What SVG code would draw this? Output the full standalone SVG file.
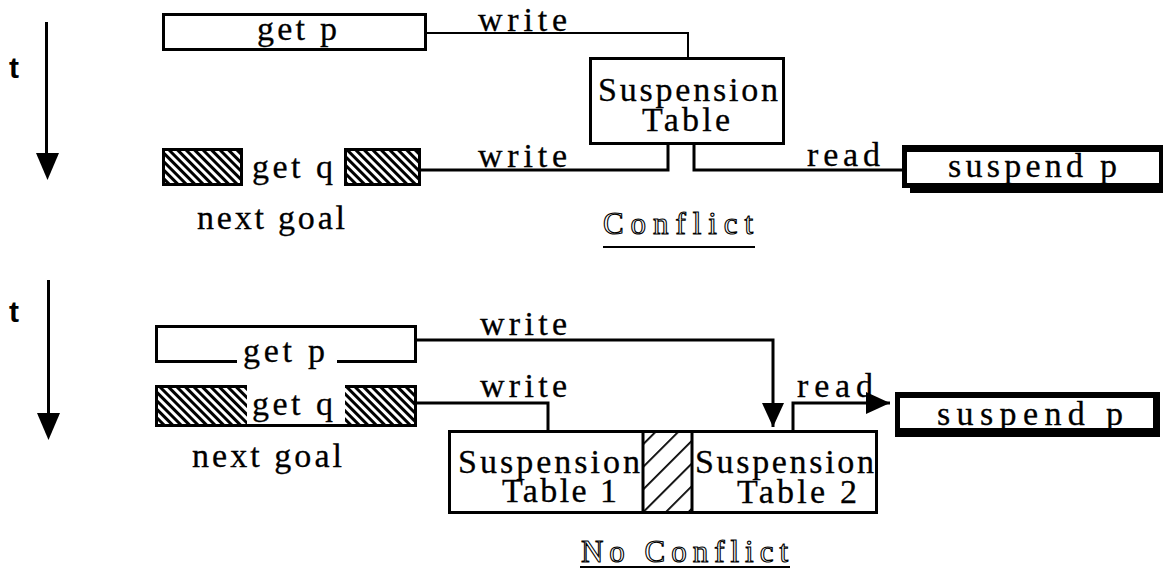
<svg xmlns="http://www.w3.org/2000/svg" width="1167" height="571" viewBox="0 0 1167 571">
  <style>
    .lbl { font-family: "Liberation Serif", "Times New Roman", serif; font-size: 34px; fill: #000; stroke: #000; stroke-width: 0.3px; }
    .tm { font-family: "Liberation Sans", Arial, sans-serif; font-weight: bold; font-size: 30px; fill: #000; }
    .outline { font-family: "Liberation Serif", "Times New Roman", serif; font-size: 31px; fill: #fff; stroke: #000; stroke-width: 1.1px; }
    .box { fill: #fff; stroke: #000; stroke-width: 3; }
    .edge { fill: none; stroke: #000; stroke-width: 3; }
    .hbox { fill: url(#hatchDense); stroke: #000; stroke-width: 3; }
    .wire { fill: none; stroke: #000; stroke-width: 3; }
    .thin { fill: none; stroke: #000; stroke-width: 2; }
    .rule { stroke: #000; stroke-width: 2; }
  </style>
  <defs>
    <pattern id="hatchDense" patternUnits="userSpaceOnUse" width="6" height="6" patternTransform="rotate(-45)">
      <rect x="0" y="0" width="6" height="6" fill="#fff"/>
      <rect x="0" y="0" width="3" height="6" fill="#000"/>
    </pattern>
    <pattern id="hatchSparse" patternUnits="userSpaceOnUse" width="16" height="16" patternTransform="rotate(45)">
      <rect x="0" y="0" width="16" height="16" fill="#fff"/>
      <rect x="0" y="0" width="1.8" height="16" fill="#000"/>
    </pattern>
    <marker id="head" markerUnits="userSpaceOnUse" markerWidth="26" markerHeight="24" refX="24" refY="12" orient="auto">
      <path d="M0,1 L24,12 L0,23 Z" fill="#000"/>
    </marker>
  </defs>

  <!-- time axes -->
  <g id="time-top">
    <text class="tm" x="9" y="78">t</text>
    <line x1="46.5" y1="22" x2="46.5" y2="156" stroke="#000" stroke-width="3"/>
    <polygon points="36,153 59,153 47.5,180" fill="#000"/>
  </g>
  <g id="time-bottom">
    <text class="tm" x="9" y="322">t</text>
    <line x1="48.5" y1="280" x2="48.5" y2="416" stroke="#000" stroke-width="3"/>
    <polygon points="37,413 60,413 48.5,440" fill="#000"/>
  </g>

  <!-- connectors -->
  <g id="connectors">
    <!-- upper scenario -->
    <path class="thin" d="M427,33 H688 V57"/>
    <path class="wire" d="M668,145 V170 H420"/>
    <path class="wire" d="M694,145 V170 H902"/>
    <text class="lbl" x="478" y="31" textLength="89" lengthAdjust="spacing">write</text>
    <text class="lbl" x="478" y="167" textLength="89" lengthAdjust="spacing">write</text>
    <text class="lbl" x="807" y="166" textLength="73" lengthAdjust="spacing">read</text>
    <!-- lower scenario -->
    <path class="wire" d="M417,340 H773 V427" marker-end="url(#head)"/>
    <path class="wire" d="M417,403 H548 V430"/>
    <path class="wire" d="M793,430 V403 H890" marker-end="url(#head)"/>
    <text class="lbl" x="480" y="335" textLength="87" lengthAdjust="spacing">write</text>
    <text class="lbl" x="480" y="397" textLength="87" lengthAdjust="spacing">write</text>
    <text class="lbl" x="797" y="397" textLength="76" lengthAdjust="spacing">read</text>
  </g>

  <!-- upper scenario: conflict -->
  <g id="get-p-1">
    <rect class="box" x="163.5" y="14.5" width="262" height="35"/>
    <text class="lbl" x="257" y="40" textLength="80" lengthAdjust="spacing">get p</text>
  </g>
  <g id="get-q-1">
    <rect class="hbox" x="163.5" y="149.5" width="78" height="35"/>
    <rect class="hbox" x="345.5" y="149.5" width="74" height="35"/>
    <text class="lbl" x="252" y="178" textLength="81" lengthAdjust="spacing">get q</text>
  </g>
  <g id="next-goal-1">
    <text class="lbl" x="197" y="229" textLength="148" lengthAdjust="spacing">next goal</text>
  </g>
  <g id="suspension-table">
    <rect class="box" x="590.5" y="58.5" width="193" height="85"/>
    <text class="lbl" x="598" y="101" textLength="180" lengthAdjust="spacing">Suspension</text>
    <text class="lbl" x="642" y="131" textLength="88" lengthAdjust="spacing">Table</text>
  </g>
  <g id="suspend-p-1">
    <rect x="902" y="145" width="261" height="48" fill="#000"/>
    <rect x="907" y="152" width="252" height="31" fill="#fff"/>
    <rect x="902" y="188" width="8" height="6" fill="#fff"/>
    <text class="lbl" x="948" y="177" textLength="169" lengthAdjust="spacing">suspend p</text>
  </g>
  <g id="caption-conflict">
    <text class="outline" x="603" y="234" textLength="150" lengthAdjust="spacing">Conflict</text>
    <line class="rule" x1="603" y1="247" x2="755" y2="247"/>
  </g>

  <!-- lower scenario: no conflict -->
  <g id="get-p-2">
    <rect x="156" y="327" width="259" height="34" fill="#fff"/>
    <path class="edge" d="M237,361.5 H156.5 V326.5 H415.5 V361.5 H337"/>
    <text class="lbl" x="243" y="362" textLength="82" lengthAdjust="spacing">get p</text>
  </g>
  <g id="get-q-2">
    <rect x="156" y="386" width="91" height="39" fill="url(#hatchDense)"/>
    <rect x="345" y="386" width="71" height="39" fill="url(#hatchDense)"/>
    <path class="edge" d="M247,386.5 H156.5 V425.5 H415.5 V386.5 H345"/>
    <text class="lbl" x="252" y="415" textLength="81" lengthAdjust="spacing">get q</text>
  </g>
  <g id="next-goal-2">
    <text class="lbl" x="192" y="467" textLength="150" lengthAdjust="spacing">next goal</text>
  </g>
  <g id="suspension-tables">
    <rect class="box" x="449.5" y="431.5" width="427" height="81"/>
    <rect x="643" y="431.5" width="49" height="81" fill="url(#hatchSparse)" stroke="#000" stroke-width="3"/>
    <text class="lbl" x="458" y="473" textLength="182" lengthAdjust="spacing">Suspension</text>
    <text class="lbl" x="502" y="502" textLength="115" lengthAdjust="spacing">Table 1</text>
    <text class="lbl" x="695" y="473" textLength="179" lengthAdjust="spacing">Suspension</text>
    <text class="lbl" x="737" y="503" textLength="120" lengthAdjust="spacing">Table 2</text>
  </g>
  <g id="suspend-p-2">
    <rect x="895" y="392" width="265" height="45" fill="#000"/>
    <rect x="900" y="398" width="253" height="30" fill="#fff"/>
    <text class="lbl" x="937" y="425" textLength="186" lengthAdjust="spacing">suspend p</text>
  </g>
  <g id="caption-no-conflict">
    <text class="outline" x="581" y="562" textLength="207" lengthAdjust="spacing">No Conflict</text>
    <line class="rule" x1="580" y1="567" x2="790" y2="567"/>
  </g>
</svg>
